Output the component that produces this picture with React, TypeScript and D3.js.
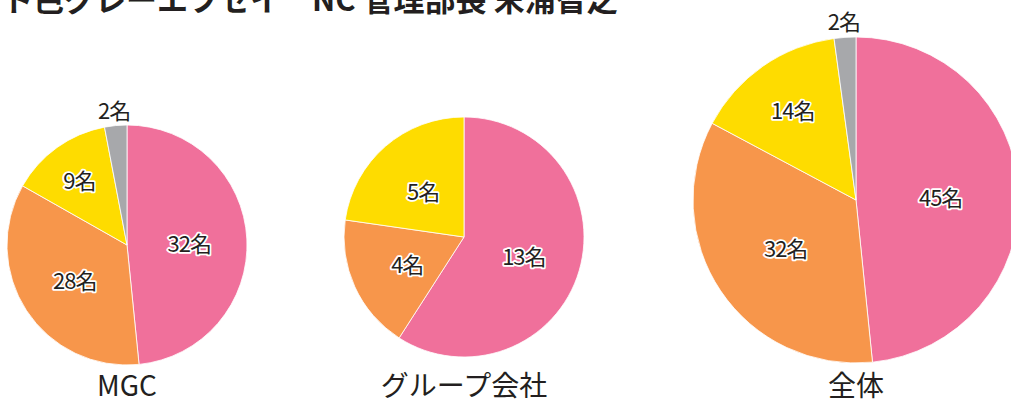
import React from "react";
import * as d3 from "d3";

const titleText = "ト色グレーエフセイ　NC 管理部長 末浦智之";
const groups = ["MGC", "グループ会社", "全体"];
const segmentNames = ["A", "B", "C", "D"];
// head counts shown in the labels
const mgcValues = [32, 28, 9, 2];
const groupCoValues = [13, 4, 5, 0];
const totalValues = [45, 32, 14, 2];
// slice shares (%) as drawn in the MGC pie of the picture
const mgcShares = [48.4, 34.8, 13.8, 3.0];
const colors = ["#F0709B", "#F7964B", "#FEDC00", "#A7A8AB"];
const unit = "名";

const pies = [
  { name: groups[0], values: mgcValues, shares: mgcShares, cx: 127, cy: 245, r: 120 },
  { name: groups[1], values: groupCoValues, shares: groupCoValues, cx: 464, cy: 237, r: 120 },
  { name: groups[2], values: totalValues, shares: totalValues, cx: 856, cy: 200, r: 163 },
];

const FONT = "'Noto Sans CJK JP', 'Noto Sans', sans-serif";

export default function App() {
  const pieGen = d3
    .pie<number>()
    .sort(null)
    .value((d) => d);
  return (
    <div style={{ position: "absolute", left: 0, top: 0 }}>
      <svg width={1011} height={403} style={{ display: "block", background: "#fff" }}>
        <text x={2} y={11} fontFamily={FONT} fontWeight={700} fontSize={31} fill="#231f20">
          {titleText}
        </text>
        {pies.map((p) => {
          const arcs = pieGen(p.shares);
          const arc = d3.arc<d3.PieArcDatum<number>>().innerRadius(0).outerRadius(p.r);
          return (
            <g key={p.name} transform={`translate(${p.cx},${p.cy})`}>
              {arcs.map((a, i) =>
                a.value > 0 ? (
                  <path key={segmentNames[i]} d={arc(a) || ""} fill={colors[i]} stroke="#fff" strokeWidth={0.8} />
                ) : null
              )}
              {arcs.map((a, i) => {
                if (a.value <= 0) return null;
                const span = a.endAngle - a.startAngle;
                const mid = (a.startAngle + a.endAngle) / 2;
                let lr = p.r * 0.52;
                const outside = span < 0.3;
                if (outside) lr = p.r + 17;
                else if (span < 1.05) lr = p.r * 0.68;
                const x = Math.sin(mid) * lr;
                const y = -Math.cos(mid) * lr;
                return (
                  <text
                    key={"l" + i}
                    x={x}
                    y={y}
                    textAnchor="middle"
                    dominantBaseline="central"
                    fontFamily={FONT}
                    fontSize={22}
                    letterSpacing={-1}
                    fill="#231f20"
                    stroke={outside ? "none" : "#fff"}
                    strokeWidth={3.5}
                    strokeLinejoin="round"
                    paintOrder="stroke"
                  >
                    {p.values[i] + unit}
                  </text>
                );
              })}
              <text
                x={0}
                y={384 - p.cy}
                textAnchor="middle"
                dominantBaseline="central"
                fontFamily={FONT}
                fontSize={28}
                fill="#231f20"
              >
                {p.name}
              </text>
            </g>
          );
        })}
      </svg>
    </div>
  );
}
